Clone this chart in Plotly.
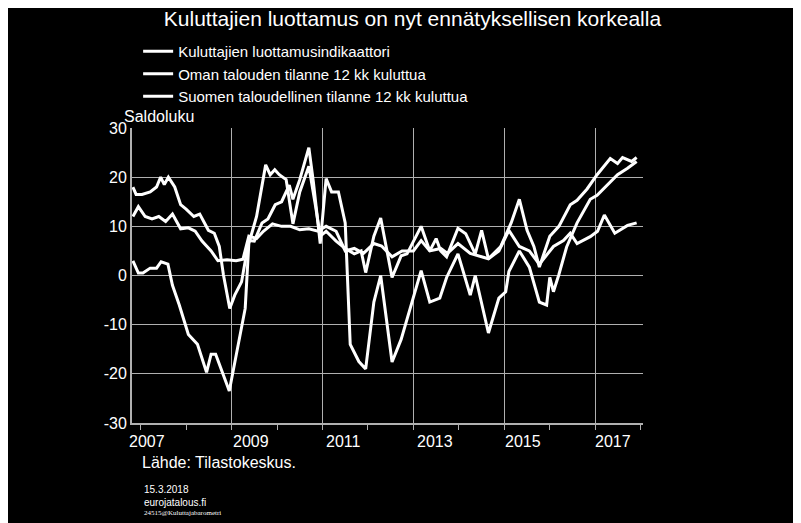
import plotly.graph_objects as go

TITLE = "Kuluttajien luottamus on nyt ennätyksellisen korkealla"
names = ["Kuluttajien luottamusindikaattori", "Oman talouden tilanne 12 kk kuluttua",
         "Suomen taloudellinen tilanne 12 kk kuluttua"]

conf_x = [2006.83,2006.95,2007.1,2007.25,2007.4,2007.55,2007.7,2007.88,2008.05,2008.2,2008.35,2008.55,2008.7,2008.9,2009.1,2009.25,2009.38,2009.55,2009.7,2009.9,2010.1,2010.3,2010.5,2010.7,2010.9,2011.08,2011.3,2011.5,2011.7,2011.9,2012.13,2012.3,2012.53,2012.75,2013.0,2013.17,2013.36,2013.6,2013.75,2013.98,2014.25,2014.65,2014.88,2015.1,2015.33,2015.55,2015.77,2016.08,2016.3,2016.45,2016.6,2016.89,2017.05,2017.2,2017.43,2017.6,2017.71,2017.91]
conf_y = [12,14,12,11.5,12,11,12.5,9.5,9.7,9,7,5,3,3.2,3,3.3,8,7.5,9,10.5,10,10,9.3,9.5,9,10,9,5,5.5,4.5,6.5,6,3.8,5,5,7.1,5,5.5,4.5,6.5,4.5,3.4,5,9.2,5.9,5,2.3,5.9,7.1,8.6,6.5,7.9,9,12.3,8.6,9.5,10.2,10.7]

own_x = [2006.83,2006.9,2007.03,2007.21,2007.35,2007.44,2007.52,2007.61,2007.75,2007.88,2008.0,2008.17,2008.3,2008.49,2008.62,2008.73,2008.82,2008.96,2009.07,2009.22,2009.38,2009.5,2009.67,2009.8,2009.96,2010.1,2010.27,2010.35,2010.5,2010.7,2010.8,2010.95,2011.08,2011.2,2011.35,2011.5,2011.61,2011.8,2011.95,2012.13,2012.28,2012.53,2012.73,2012.86,2013.17,2013.36,2013.58,2013.73,2013.98,2014.25,2014.36,2014.65,2014.88,2015.03,2015.1,2015.33,2015.55,2015.77,2015.93,2016.0,2016.08,2016.2,2016.37,2016.6,2016.89,2017.04,2017.26,2017.49,2017.71,2017.91]
own_y = [18,16.5,16.5,17,18,20,18.5,20,18,14.4,13.5,12,12.5,9.2,8.6,5.9,0.2,-6.7,-4,-1.3,7.1,7,10.7,11.5,14.4,15,18.4,15.5,19.5,26,19,6.5,19.7,17,17,10.7,-14,-17.5,-19,-5.4,0,-17.6,-13,-9,1,-5.4,-4.6,-0.4,4.4,-4,0,-11.7,-4.6,-3.3,0.8,5,1.7,-5.4,-6,-0.4,-3.3,0.2,5.8,10.7,15.5,16.3,18.4,20.5,21.8,23.2]

fin_x = [2006.83,2006.95,2007.05,2007.21,2007.35,2007.45,2007.6,2007.7,2007.85,2008.05,2008.25,2008.45,2008.55,2008.65,2008.95,2009.15,2009.3,2009.38,2009.55,2009.75,2009.85,2009.95,2010.05,2010.2,2010.35,2010.5,2010.7,2010.85,2010.95,2011.08,2011.3,2011.5,2011.7,2011.85,2011.95,2012.13,2012.28,2012.53,2012.73,2012.86,2013.17,2013.36,2013.5,2013.6,2013.73,2013.98,2014.15,2014.36,2014.5,2014.65,2014.92,2015.15,2015.33,2015.5,2015.65,2015.77,2016.0,2016.2,2016.45,2016.6,2016.82,2017.04,2017.33,2017.49,2017.6,2017.8,2017.91]
fin_y = [3,0.5,0.5,1.5,1.5,2.8,2.3,-2,-6,-12,-14,-19.7,-16,-16,-23.5,-14,-6.7,6.5,12,22.5,20.5,21.5,20.5,19.5,10.5,17,22.2,14,8,9,7,5.5,4.4,5,0.6,8,11.7,-0.4,4,4.4,10,5,7.5,5,3.8,9.6,8.5,4.4,9.2,3.4,5.9,10.7,15.5,9.2,5.9,1.7,8,10,14.4,15.3,17.6,20.5,23.8,22.8,24,23.2,24]

year_labels = ["2007", "2009", "2011", "2013", "2015", "2017"]
year_pos = [2007.15, 2009.42, 2011.46, 2013.47, 2015.41, 2017.4]
grid_years = [2009, 2011, 2013, 2015, 2017]
y_ticks = [-30, -20, -10, 0, 10, 20, 30]
y_ticktext = ["-30", "-20", "-10", "0", "10", "20", "30"]

fig = go.Figure()
for nm, xs, ys in [(names[0], conf_x, conf_y), (names[1], own_x, own_y), (names[2], fin_x, fin_y)]:
    fig.add_trace(go.Scatter(x=xs, y=ys, mode="lines", name=nm,
                             line=dict(color="white", width=3)))

F = "Liberation Sans, Arial, sans-serif"
fig.update_layout(
    width=793, height=515, paper_bgcolor="black", plot_bgcolor="black",
    margin=dict(l=124, r=158, t=120, b=100),
    font=dict(family=F, color="white", size=15),
    title=dict(text=TITLE, x=0.51, xanchor="center", y=0.993, yanchor="top",
               font=dict(size=21, color="white")),
    showlegend=True,
    legend=dict(x=0.012, xanchor="left", y=1.315, yanchor="top", bgcolor="rgba(0,0,0,0)",
                font=dict(size=15, color="white"), tracegroupgap=0, itemwidth=30),
    xaxis=dict(range=[2006.81, 2018.05], tickvals=grid_years, showticklabels=False,
               showgrid=True, gridcolor="#b0b0b0", gridwidth=1, ticks="",
               minor=dict(dtick=1, tick0=2006, ticks="outside", ticklen=5, tickcolor="#b0b0b0", showgrid=False),
               showline=True, linecolor="#b0b0b0", linewidth=2, zeroline=False),
    yaxis=dict(range=[-30, 30], tickvals=y_ticks, ticktext=y_ticktext, showgrid=True,
               gridcolor="#b0b0b0", gridwidth=1,
               showline=True, linecolor="#b0b0b0", linewidth=2, zeroline=False,
               tickfont=dict(size=16), ticks=""),
)
for lab, pos in zip(year_labels, year_pos):
    fig.add_annotation(x=pos, y=0, xref="x", yref="paper", yshift=-8, yanchor="top",
                       text=lab, showarrow=False, font=dict(size=16, color="white"))
fig.add_annotation(x=0, xref="paper", y=1.005, yref="paper", xanchor="left", yanchor="bottom",
                   xshift=-10, text="Saldoluku", showarrow=False, font=dict(size=16, color="white"))
fig.add_annotation(x=0, xref="paper", y=-0.098, yref="paper", xanchor="left", yanchor="top",
                   xshift=8, text="Lähde: Tilastokeskus.", showarrow=False, font=dict(size=16, color="white"))
fig.add_annotation(x=0, xref="paper", y=-0.2, yref="paper", xanchor="left", yanchor="top",
                   xshift=10, text="15.3.2018<br>eurojatalous.fi", showarrow=False, align="left",
                   font=dict(size=10, color="white"))
fig.add_annotation(x=0, xref="paper", y=-0.285, yref="paper", xanchor="left", yanchor="top",
                   xshift=10, text="24515@Kuluttajabarometri", showarrow=False,
                   font=dict(size=7, color="white", family="Liberation Serif, serif"))
fig.write_html("out.html")
